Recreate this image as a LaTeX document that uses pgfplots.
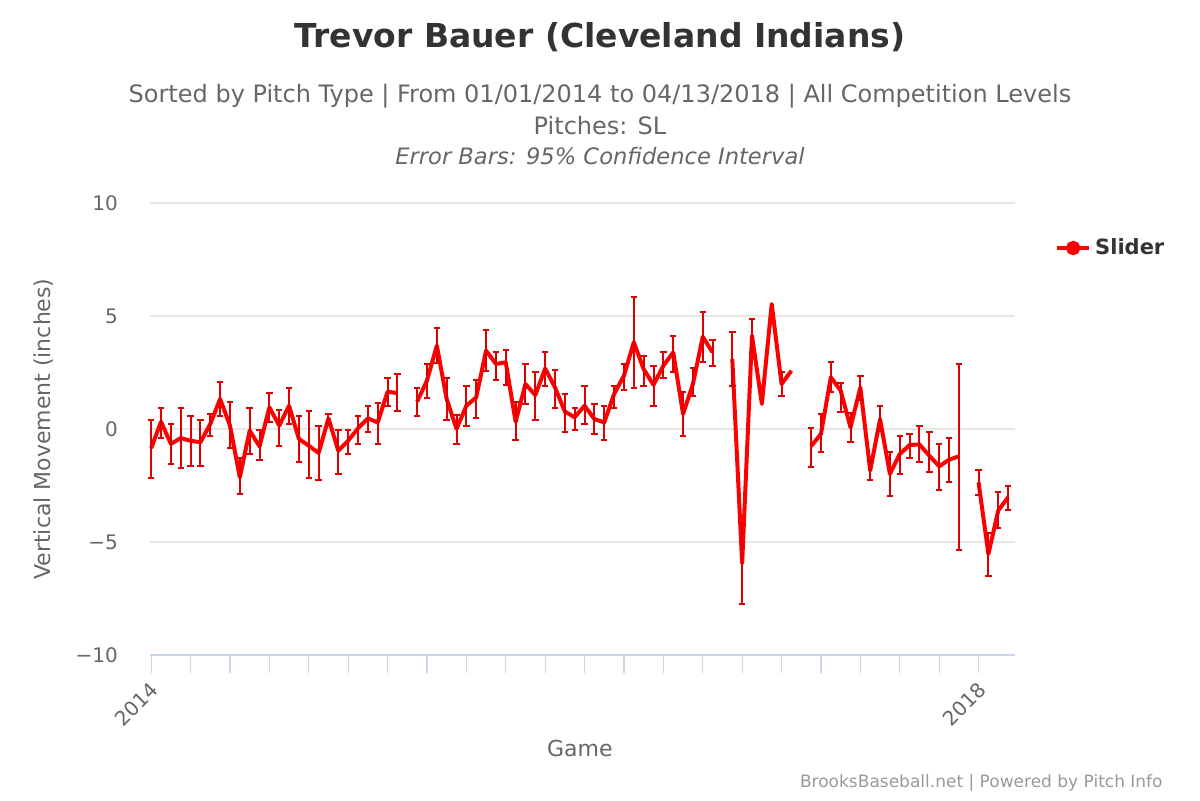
\documentclass[border=0pt]{standalone}
\usepackage{fontspec}
\setmainfont{DejaVu Sans}
\usepackage{pgfplots}
\usepackage{pgfplotstable}
\pgfplotsset{compat=1.18}
\definecolor{titlec}{HTML}{333333}
\definecolor{subc}{HTML}{666666}
\definecolor{labc}{HTML}{666666}
\definecolor{gridc}{HTML}{E6E6E6}
\definecolor{axisc}{HTML}{CCD6EB}
\definecolor{credc}{HTML}{999999}
\definecolor{linec}{HTML}{FF0000}
\definecolor{errc}{HTML}{DD0000}
\pgfplotstableread{
x y top bot
0 -0.85 0.41 -2.15
1 0.32 0.93 -0.40
2 -0.66 0.22 -1.55
3 -0.40 0.93 -1.73
4 -0.52 0.59 -1.64
5 -0.59 0.41 -1.64
6 0.22 0.66 -0.29
7 1.33 2.09 0.59
8 0.15 1.21 -0.85
9 -2.14 -1.30 -2.88
10 -0.07 0.93 -1.11
11 -0.77 -0.03 -1.36
12 0.96 1.58 0.29
13 0.15 0.85 -0.77
14 1.03 1.81 0.22
15 -0.44 0.59 -1.45
16 -0.74 0.78 -2.17
17 -1.06 0.15 -2.24
18 0.47 0.66 0.20
19 -0.96 -0.03 -1.99
20 -0.52 -0.03 -1.11
21 0.03 0.59 -0.66
22 0.47 1.03 -0.15
23 0.29 1.14 -0.66
24 1.65 2.26 1.03
25 1.59 2.43 0.78
26 nan nan nan
27 1.21 1.81 0.59
28 2.14 2.88 1.37
29 3.69 4.47 2.90
30 1.33 2.26 0.41
31 0.00 0.60 -0.66
32 1.03 1.92 0.15
33 1.40 2.18 0.49
34 3.47 4.39 2.55
35 2.88 3.42 2.18
36 2.95 3.50 1.96
37 0.32 1.20 -0.47
38 1.99 2.88 1.11
39 1.50 2.54 0.41
40 2.68 3.42 1.89
41 1.84 2.61 0.93
42 0.77 1.55 -0.12
43 0.52 0.91 -0.03
44 1.03 1.89 0.22
45 0.44 1.11 -0.22
46 0.29 1.00 -0.47
47 1.55 1.89 0.93
48 2.36 2.88 1.74
49 3.84 5.84 1.81
50 2.65 3.24 1.89
51 1.95 2.80 1.00
52 2.80 3.42 2.24
53 3.39 4.13 2.51
54 0.66 1.65 -0.29
55 1.99 2.70 1.47
56 4.08 5.19 2.98
57 3.39 3.95 2.77
58 nan nan nan
59 3.10 4.31 1.90
60 -5.95 -4.20 -7.74
61 4.13 4.85 3.40
62 1.11 1.11 1.11
63 5.53 5.53 5.53
64 1.99 2.54 1.47
65 2.58 2.58 2.58
66 nan nan nan
67 -0.76 0.05 -1.70
68 -0.22 0.66 -1.00
69 2.29 2.98 1.65
70 1.70 2.02 0.77
71 0.07 0.70 -0.56
72 1.84 2.36 1.30
73 -1.84 -1.40 -2.24
74 0.44 1.03 -0.10
75 -1.99 -1.03 -2.95
76 -1.11 -0.29 -1.99
77 -0.71 -0.22 -1.28
78 -0.68 0.15 -1.45
79 -1.18 -0.12 -1.89
80 -1.65 -0.66 -2.68
81 -1.36 -0.40 -2.33
82 -1.21 2.88 -5.34
83 nan nan nan
84 -2.36 -1.80 -2.90
85 -5.53 -4.60 -6.49
86 -3.61 -2.77 -4.39
87 -3.02 -2.51 -3.58
}\data
\begin{document}
\begin{tikzpicture}
\path[use as bounding box] (0,0) rectangle (600pt,400pt);
\node[text=titlec, font=\bfseries\fontsize{16.5}{19}\selectfont] at (300pt,381.5pt) {Trevor Bauer (Cleveland Indians)};
\node[text=subc, font=\fontsize{12}{14}\selectfont] at (300pt,352pt) {Sorted by Pitch Type | From 01/01/2014 to 04/13/2018 | All Competition Levels};
\node[text=subc, font=\fontsize{12}{14}\selectfont] at (300pt,337pt) {Pitches: SL};
\node[text=subc, font=\itshape\fontsize{11.3}{14}\selectfont] at (300pt,322pt) {Error Bars: 95\% Confidence Interval};
\node[text=credc, font=\fontsize{8.5}{10}\selectfont, anchor=east, inner sep=0pt] at (581.5pt,8.5pt) {BrooksBaseball.net | Powered by Pitch Info};
\begin{axis}[
  at={(75pt,72.5pt)}, anchor=south west,
  scale only axis, width=432.5pt, height=226pt,
  xmin=-0.12, xmax=87.7, ymin=-10, ymax=10,
  axis x line*=bottom, axis y line*=left,
  x axis line style={draw=axisc, line width=0.6pt, -},
  y axis line style={draw=none},
  xtick={0,84},
  xticklabels={2014,2018},
  minor xtick={4,8,...,80},
  ytick={-10,-5,0,5,10},
  yticklabels={−10,−5,0,5,10},
  tick align=outside,
  major tick length=9pt, minor tick length=9pt,
  x tick style={draw=axisc, line width=0.6pt},
  minor x tick style={draw=axisc, line width=0.6pt},
  y tick style={draw=none},
  ymajorgrids, grid style={draw=gridc, line width=0.6pt},
  xticklabel style={text=labc, font=\fontsize{10}{12}\selectfont, rotate=45, anchor=east, yshift=-6pt, xshift=0pt},
  yticklabel style={text=labc, font=\fontsize{10}{12}\selectfont, anchor=east, xshift=-3.5pt},
  xlabel={Game}, ylabel={Vertical Movement (inches)},
  xlabel style={text=labc, font=\fontsize{11}{13}\selectfont, at={(axis description cs:0.497,-0.206)}, anchor=center},
  ylabel style={text=labc, font=\fontsize{11}{13}\selectfont, at={(axis description cs:-0.123,0.5)}, anchor=center, rotate=0},
  unbounded coords=jump,
  clip=false,
  legend style={at={(axis description cs:1.046,0.9004)}, anchor=west, draw=none, fill=none, inner sep=0pt,
    font=\bfseries\fontsize{10.5}{12}\selectfont, text=titlec, legend cell align=left},
  legend image code/.code={\draw[linec, line width=2pt] (0pt,0pt) -- (16pt,0pt); \fill[linec] (8pt,0pt) circle (2.6pt);},
]
\addplot[linec, line width=2pt, line join=round, mark=none] table[x=x, y=y] {\data};
\addlegendentry{Slider}
\addplot[draw=none, mark=none, forget plot, unbounded coords=discard,
  skip coords between index={62}{64}, skip coords between index={65}{66},
  error bars/.cd, y dir=both, y explicit,
  error bar style={draw=errc, line width=1pt},
  error mark options={draw=errc, line width=1pt, mark size=1.6pt, rotate=90}]
  table[x=x, y=y, y error plus expr=\thisrow{top}-\thisrow{y}, y error minus expr=\thisrow{y}-\thisrow{bot}] {\data};
\end{axis}
\end{tikzpicture}
\end{document}
